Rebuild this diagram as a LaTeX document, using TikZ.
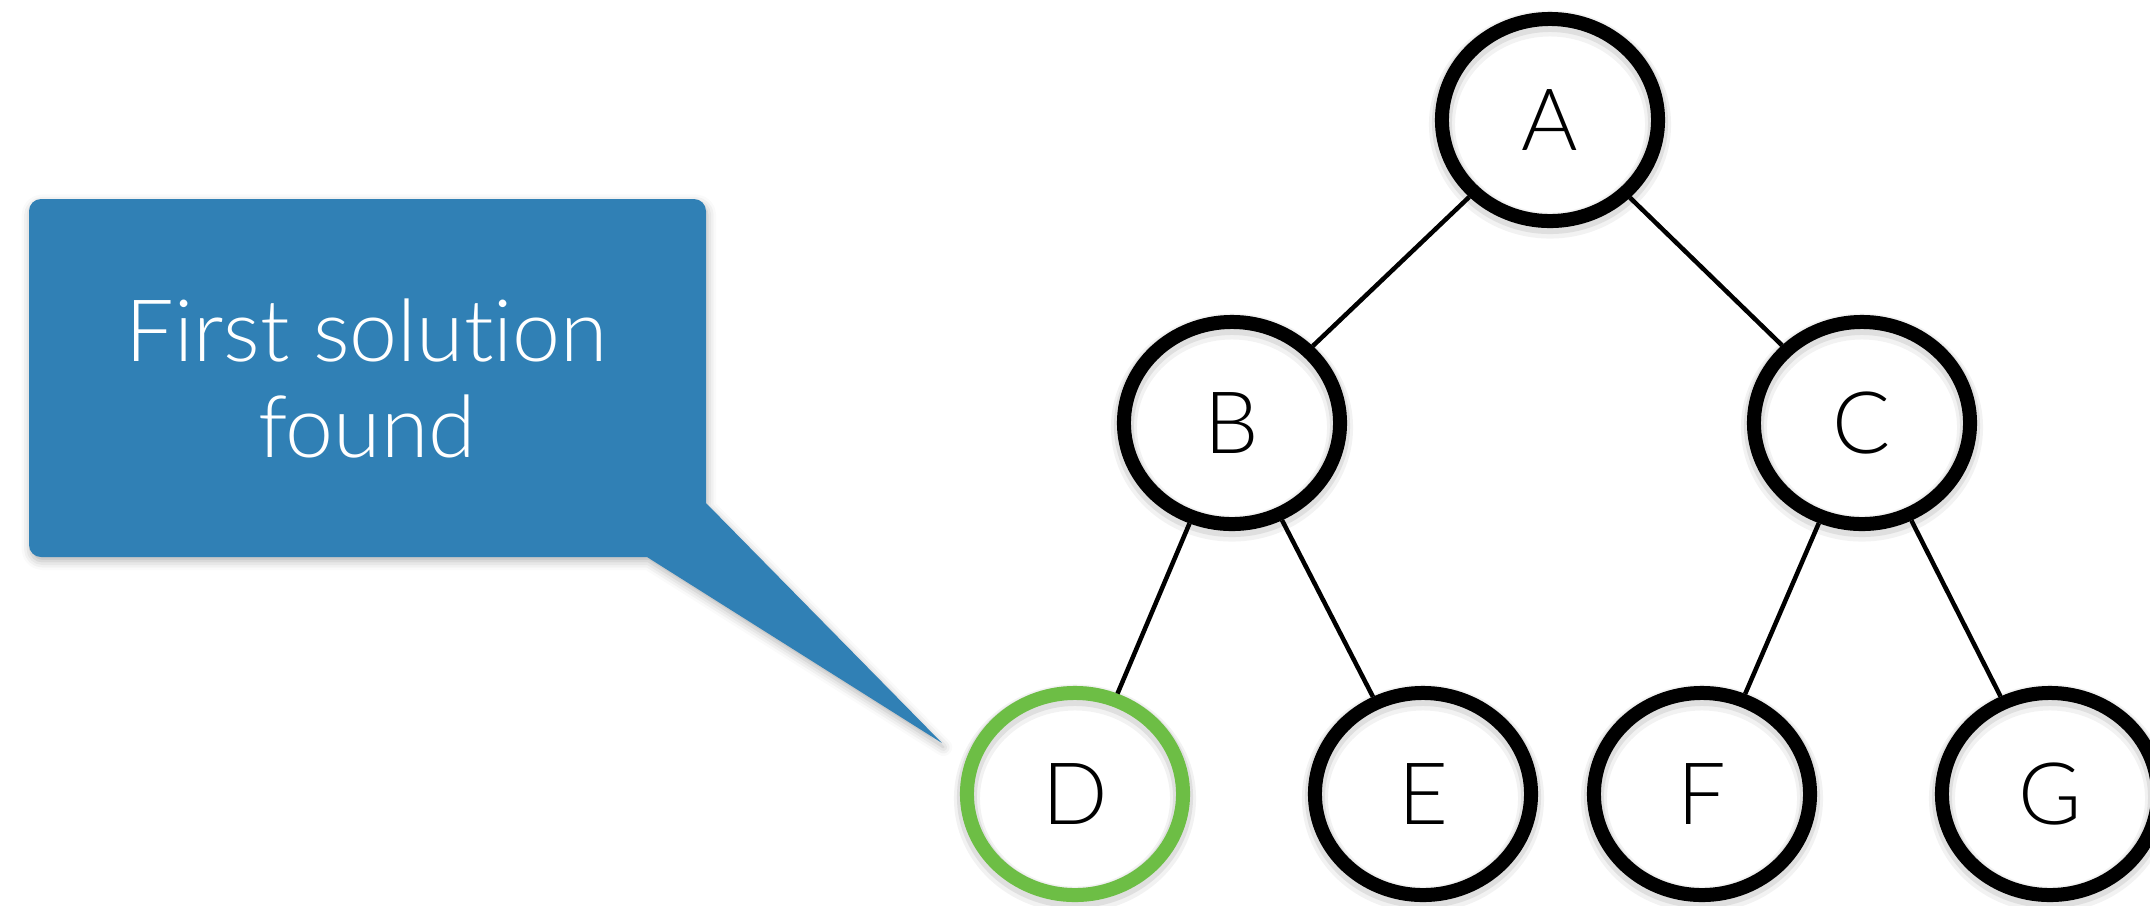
\documentclass[tikz,border=0pt]{standalone}
\usepackage{fontspec}
\setmainfont{Lato Light}[Ligatures={NoCommon,NoContextual}]
\usetikzlibrary{shapes.geometric,shadows.blur}

\definecolor{calloutblue}{HTML}{3080B5}
\definecolor{solgreen}{HTML}{6DBE45}

\tikzset{
  treenode/.style={
    ellipse, fill=white, line width=0.14cm, outer sep=0.07cm,
    minimum width=2.16cm, minimum height=2.02cm, inner sep=0pt,
    text height=17.5pt, text depth=0pt,
    font=\fontsize{24.5}{29}\selectfont,
    % soft shadow of the ring, then the ring itself
    postaction={draw=black, draw opacity=0.05, line width=0.26cm,
                transform canvas={yshift=-0.045cm}},
    postaction={draw=black, draw opacity=0.08, line width=0.2cm,
                transform canvas={yshift=-0.03cm}},
    postaction={draw=#1, line width=0.14cm}
  },
  treenode/.default=black,
  edge/.style={draw=black, line width=0.045cm},
  bubble/.style={fill=calloutblue,
    blur shadow={shadow xshift=0.4pt, shadow yshift=-1.2pt,
                 shadow blur radius=2.5pt, shadow opacity=30}},
  bubbletext/.style={text=white, align=center,
    font=\fontsize{24.5}{27.3}\selectfont}
}

\begin{document}
\begin{tikzpicture}[x=0.01cm, y=-0.01cm]
  \useasboundingbox (0,0) rectangle (2150,905);
  \clip (0,0) rectangle (2150,905);

  % speech bubble with its pointer
  \coordinate (tip) at (942,743);
  \path[bubble]
    (41,199) -- (694,199)
    .. controls (700.6,199) and (706,204.4) .. (706,211)
    -- (706,503) -- (tip) -- (647,557) -- (41,557)
    .. controls (34.4,557) and (29,551.6) .. (29,545)
    -- (29,211)
    .. controls (29,204.4) and (34.4,199) .. (41,199) -- cycle;
  \node[bubbletext] (note) at (367,378) {First solution\\found};

  % binary tree
  \node[treenode] (A) at (1550,120) {A};
  \node[treenode] (B) at (1232,423) {B};
  \node[treenode] (C) at (1862,423) {C};
  \node[treenode=solgreen] (D) at (1075,794) {D};
  \node[treenode] (E) at (1423,794) {E};
  \node[treenode] (F) at (1702,794) {F};
  \node[treenode] (G) at (2050,794) {G};

  \draw[edge] (A) -- (B);
  \draw[edge] (A) -- (C);
  \draw[edge] (B) -- (D);
  \draw[edge] (B) -- (E);
  \draw[edge] (C) -- (F);
  \draw[edge] (C) -- (G);
\end{tikzpicture}
\end{document}
